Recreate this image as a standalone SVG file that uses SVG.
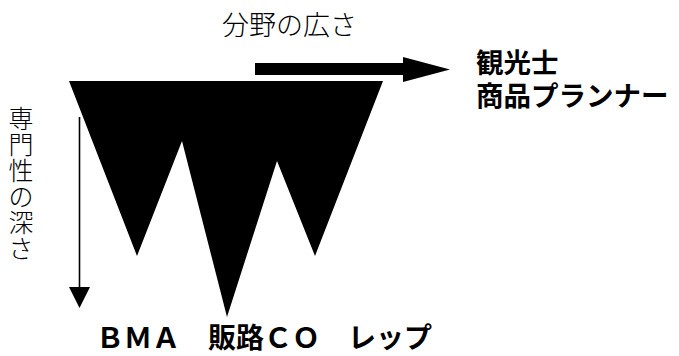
<svg xmlns="http://www.w3.org/2000/svg" width="679" height="356" viewBox="0 0 679 356">
<style>
.lbl{font-family:"Noto Sans CJK JP","Noto Sans",sans-serif;fill:#000}
.thin{font-weight:300;font-size:26px}
.bold{font-weight:bold;font-size:27.5px}
</style>
<rect width="679" height="356" fill="#fff"/>
<g id="shape">
<polygon points="69,81 383,81 315,256 277,161 227,317 182,141 137,256" fill="#000"/>
</g>
<g id="connectors">
<polygon points="255,63 403,63 403,57 450,69.5 403,82 403,75 255,75" fill="#000"/>
<line x1="79.5" y1="117" x2="79.5" y2="290" stroke="#000" stroke-width="1.6"/>
<polygon points="69,287 90,287 79.5,308" fill="#000"/>
</g>
<g id="breadth-label">
<text class="lbl thin" x="222" y="35" style="font-size:27px">分野の広さ</text>
</g>
<g id="depth-label">
<text class="lbl thin" text-anchor="middle" style="font-size:25px"><tspan x="21" y="128">専</tspan><tspan x="21" y="154">門</tspan><tspan x="21" y="180">性</tspan><tspan x="21" y="206">の</tspan><tspan x="21" y="232">深</tspan><tspan x="21" y="258">さ</tspan></text>
</g>
<g id="right-label">
<text class="lbl bold" x="476" y="73">観光士</text>
<text class="lbl bold" x="476" y="106">商品プランナー</text>
</g>
<g id="bottom-label">
<text class="lbl bold" x="96" y="348" style="font-size:28px">ＢＭＡ　販路ＣＯ　レップ</text>
</g>
</svg>
